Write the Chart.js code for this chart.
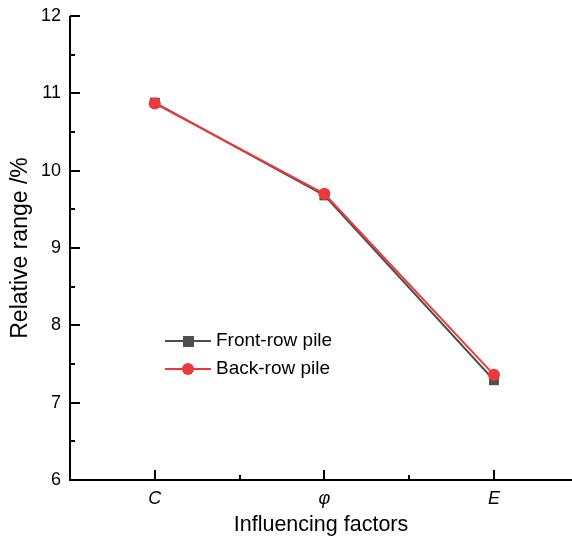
<!DOCTYPE html>
<html>
<head>
<meta charset="utf-8">
<script src="https://cdn.jsdelivr.net/npm/chart.js@4.4.0/dist/chart.umd.min.js"></script>
<style>
  html, body { margin: 0; padding: 0; background: #fff; overflow: hidden; }
  #wrap { width: 572px; height: 541px; }
  canvas { display: block; }
</style>
</head>
<body>
<div id="wrap"><canvas id="chart" width="572" height="541"></canvas></div>
<script>
// Data
const categories = ["C", "φ", "E"];
const frontRow = [10.88, 9.68, 7.29];
const backRow = [10.87, 9.70, 7.36];
const yTicks = [6, 7, 8, 9, 10, 11, 12];

const FONT = "'Liberation Sans', Arial, sans-serif";
const frontColor = "#4f4f4f";
const backColor = "#ee393c";

function toPoints(values) {
  return values.map((v, i) => ({ x: i, y: v }));
}

// Axis lines, inward ticks and the legend inside the plot
const axesPlugin = {
  id: "axesPlugin",
  afterDraw(chart) {
    const ctx = chart.ctx;
    const xs = chart.scales.x;
    const ys = chart.scales.y;
    const area = chart.chartArea;

    ctx.save();
    ctx.strokeStyle = "#000";
    ctx.lineWidth = 2;
    ctx.beginPath();
    ctx.moveTo(area.left, area.top);
    ctx.lineTo(area.left, area.bottom);
    ctx.lineTo(area.right, area.bottom);
    ctx.stroke();

    // y ticks (major + minor), pointing right
    ctx.beginPath();
    yTicks.forEach((t) => {
      const y = Math.round(ys.getPixelForValue(t));
      ctx.moveTo(area.left, y);
      ctx.lineTo(area.left + 10, y);
      if (t < 12) {
        const ym = Math.round(ys.getPixelForValue(t + 0.5));
        ctx.moveTo(area.left, ym);
        ctx.lineTo(area.left + 5, ym);
      }
    });
    // x ticks, pointing up
    categories.forEach((c, i) => {
      const x = Math.round(xs.getPixelForValue(i));
      ctx.moveTo(x, area.bottom);
      ctx.lineTo(x, area.bottom - 10);
      const xm = Math.round(xs.getPixelForValue(i + 0.5));
      if (xm < area.right) {
        ctx.moveTo(xm, area.bottom);
        ctx.lineTo(xm, area.bottom - 5);
      }
    });
    ctx.stroke();

    // legend
    const rows = [
      { label: chart.data.datasets[0].label, color: frontColor, style: "rect" },
      { label: chart.data.datasets[1].label, color: backColor, style: "circle" },
    ];
    rows.forEach((r, k) => {
      const y = 341 + k * 28;
      ctx.strokeStyle = r.color;
      ctx.lineWidth = 2;
      ctx.beginPath();
      ctx.moveTo(165, y);
      ctx.lineTo(211, y);
      ctx.stroke();
      ctx.fillStyle = r.color;
      if (r.style === "rect") {
        ctx.fillRect(183, y - 5, 11, 11);
      } else {
        ctx.beginPath();
        ctx.arc(188, y, 6, 0, Math.PI * 2);
        ctx.fill();
      }
      ctx.fillStyle = "#000";
      ctx.font = "19px " + FONT;
      ctx.textBaseline = "middle";
      ctx.textAlign = "left";
      ctx.fillText(r.label, 216, y);
    });
    ctx.restore();
  },
};

new Chart(document.getElementById("chart").getContext("2d"), {
  type: "line",
  data: {
    datasets: [
      {
        label: "Front-row pile",
        data: toPoints(frontRow),
        borderColor: frontColor,
        backgroundColor: frontColor,
        borderWidth: 2,
        pointStyle: "rect",
        pointRadius: 7,
        pointBorderWidth: 0,
        order: 1,
      },
      {
        label: "Back-row pile",
        data: toPoints(backRow),
        borderColor: backColor,
        backgroundColor: backColor,
        borderWidth: 2,
        pointStyle: "circle",
        pointRadius: 6,
        pointBorderWidth: 0,
        order: 0,
      },
    ],
  },
  options: {
    responsive: false,
    animation: false,
    layout: { autoPadding: false, padding: { top: 16, right: 0, left: 0, bottom: 0 } },
    plugins: { legend: { display: false }, tooltip: { enabled: false } },
    scales: {
      x: {
        type: "linear",
        min: -0.5,
        max: 2.46,
        grid: { display: false, drawTicks: false },
        border: { display: false },
        afterBuildTicks(scale) {
          scale.ticks = categories.map((c, i) => ({ value: i }));
        },
        afterFit(scale) {
          scale.height = 61;
          scale.paddingLeft = 0;
          scale.paddingRight = 0;
        },
        ticks: {
          padding: 8,
          color: "#000",
          font: { family: FONT, size: 18, style: "italic" },
          callback: (v) => categories[v],
        },
        title: {
          display: true,
          text: "Influencing factors",
          color: "#000",
          font: { family: FONT, size: 21.5 },
          padding: { top: 0, bottom: 3 },
        },
      },
      y: {
        min: 6,
        max: 12,
        grid: { display: false, drawTicks: false },
        border: { display: false },
        afterFit(scale) {
          scale.width = 70;
          scale.paddingTop = 0;
          scale.paddingBottom = 0;
        },
        ticks: {
          stepSize: 1,
          padding: 9,
          color: "#000",
          font: { family: FONT, size: 18 },
        },
        title: {
          display: true,
          text: "Relative range /%",
          color: "#000",
          font: { family: FONT, size: 23 },
          padding: { top: 7, bottom: 0 },
        },
      },
    },
  },
  plugins: [axesPlugin],
});
</script>
</body>
</html>
